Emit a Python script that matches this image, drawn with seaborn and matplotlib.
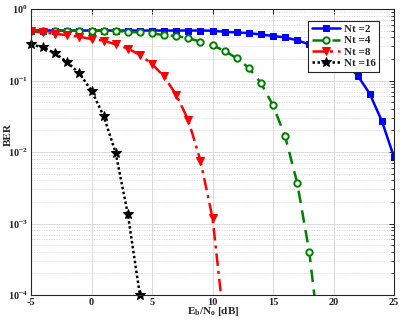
import numpy as np
import pandas as pd
import matplotlib
matplotlib.use("Agg")
import matplotlib.pyplot as plt
import seaborn as sns

snr_2 = list(range(-5, 26))
ber_2 = [0.5, 0.5, 0.5, 0.5, 0.5, 0.5, 0.5, 0.5, 0.5, 0.5, 0.5, 0.5, 0.5, 0.5, 0.5,
         0.497, 0.48, 0.47, 0.46, 0.44, 0.42, 0.40, 0.365, 0.32, 0.277,
         0.23, 0.174, 0.117, 0.065, 0.027, 0.0085]

snr_4 = list(range(-5, 20))
ber_4 = [0.5, 0.5, 0.5, 0.5, 0.5, 0.5, 0.5, 0.495, 0.48, 0.47, 0.457, 0.43, 0.42,
         0.39, 0.35, 0.31, 0.26, 0.205, 0.15, 0.092, 0.045, 0.0166, 0.0037,
         0.0004, 1.4e-5]

snr_8 = list(range(-5, 12))
ber_8 = [0.49, 0.47, 0.45, 0.43, 0.41, 0.38, 0.36, 0.32, 0.28, 0.228, 0.17,
         0.114, 0.063, 0.028, 0.0076, 0.0012, 3.5e-5]

snr_16 = list(range(-5, 5))
ber_16 = [0.32, 0.29, 0.24, 0.18, 0.126, 0.072, 0.032, 0.0097, 0.00136, 1.0e-4]

labels = ["Nt =2", "Nt =4", "Nt =8", "Nt =16"]

sns.set_theme(style="white")
plt.rcParams['font.family'] = ['Liberation Serif', 'DejaVu Serif']
plt.rcParams['mathtext.fontset'] = 'custom'
plt.rcParams['mathtext.rm'] = 'Liberation Serif:bold'
plt.rcParams['mathtext.it'] = 'Liberation Serif:bold'
plt.rcParams['mathtext.bf'] = 'Liberation Serif:bold'

fig = plt.figure(figsize=(4.01, 3.21), dpi=100)
ax = fig.add_axes([31/401, 1-295/321, 363/401, 286/321])

styles = [
    dict(color="#0000ff", marker="s", linestyle="-", markersize=4.4, lw=1.8,
         markerfacecolor="#0000ff", markeredgecolor="#0000ff"),
    dict(color="#008000", marker="o", linestyle=(0, (5, 3)), markersize=4.6, lw=1.8,
         markerfacecolor="white", markeredgecolor="#008000", markeredgewidth=1.4),
    dict(color="#ff0000", marker="v", linestyle=(0, (5, 2, 1.2, 2)), markersize=5.6, lw=1.8,
         markerfacecolor="#ff0000", markeredgecolor="#ff0000"),
    dict(color="black", marker="*", linestyle=(0, (1, 1)), markersize=7, lw=1.8,
         markerfacecolor="black", markeredgecolor="black"),
]
data = [(snr_2, ber_2), (snr_4, ber_4), (snr_8, ber_8), (snr_16, ber_16)]
for (x, y), lab, st in zip(data, labels, styles):
    df = pd.DataFrame({"x": x, "y": y})
    st = dict(st)
    color = st.pop("color")
    ls = st.pop("linestyle")
    sns.lineplot(data=df, x="x", y="y", ax=ax, label=lab, color=color,
                 linestyle=ls, **st)
ax.get_lines()[-1].set_clip_on(False)

ax.set_yscale("log")
ax.set_xlim(-5, 25)
ax.set_ylim(1e-4, 1)
ax.set_xticks([-5, 0, 5, 10, 15, 20, 25])
ax.set_xticklabels(["-5", "0", "5", "10", "15", "20", "25"])
ax.grid(True, which="major", color="#d9d9d9", lw=0.7, ls="-")
ax.grid(True, which="minor", axis="y", color="#d9d9d9", lw=0.6, ls=(0, (1.5, 1.5)))
ax.tick_params(which="both", direction="in", top=True, right=True,
               labelsize=7.5, pad=2)
ax.tick_params(which="major", length=3.5, width=0.7)
ax.tick_params(which="minor", length=2, width=0.6)
for lab in ax.get_xticklabels() + ax.get_yticklabels():
    lab.set_fontweight("bold")
for sp in ax.spines.values():
    sp.set_color("#262626")
    sp.set_linewidth(0.8)

ax.set_ylabel("BER", fontsize=8, fontweight="bold")
ax.yaxis.set_label_coords(-0.05, 0.56)
ax.set_xlabel(r"E$_b$/N$_o$ [dB]", fontsize=8, fontweight="bold")
ax.xaxis.set_label_coords(0.501, -0.036)

leg = ax.legend(loc="upper right", bbox_to_anchor=(0.974, 0.978),
                prop={"weight": "bold", "size": 8}, frameon=True, fancybox=False,
                edgecolor="#262626", framealpha=1, borderpad=0.3,
                labelspacing=0.15, handlelength=2.6, handletextpad=0.3)
leg.get_frame().set_linewidth(0.8)

fig.savefig("out.png", dpi=100)
